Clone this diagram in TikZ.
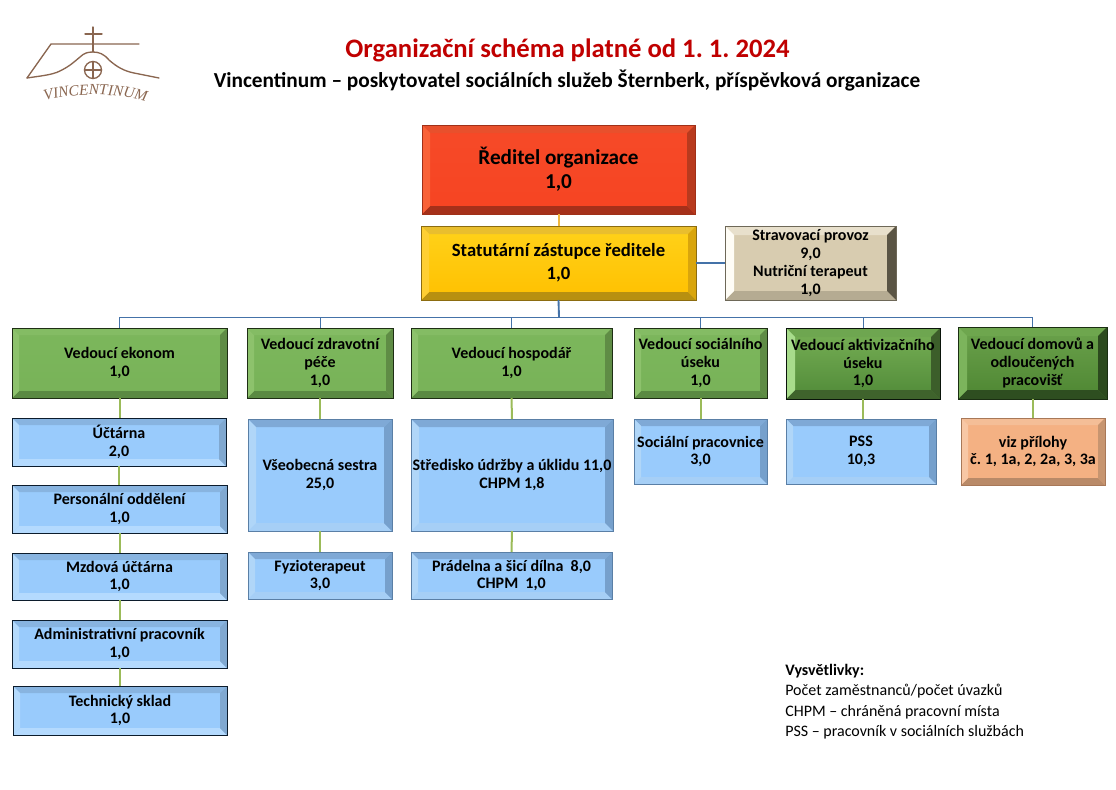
\documentclass[tikz,border=0pt]{standalone}
\usepackage{fontspec}
\setmainfont{Carlito}
\newfontfamily\logofont{Liberation Serif}
\usetikzlibrary{decorations.text}
\AtBeginDocument{\frenchspacing}
\definecolor{titlered}{HTML}{C00000}
\definecolor{logobrown}{HTML}{8A6650}
\definecolor{lineblue}{HTML}{4472A8}
\definecolor{lineorange}{HTML}{F0B840}
\definecolor{linegreen}{HTML}{9BBB59}
% face top, face bottom, top, left, right, bottom bevel, edge
\definecolor{grnA}{HTML}{7CB75C}\definecolor{grnB}{HTML}{78B258}\definecolor{grnT}{HTML}{84BC64}\definecolor{grnL}{HTML}{8DC26C}\definecolor{grnR}{HTML}{5F8C45}\definecolor{grnD}{HTML}{5A8A42}\definecolor{grnE}{HTML}{1E2E14}
\definecolor{gr2A}{HTML}{78B056}\definecolor{gr2B}{HTML}{508A38}\definecolor{gr2T}{HTML}{6EA650}\definecolor{gr2L}{HTML}{A8DC8C}\definecolor{gr2R}{HTML}{3C5E2A}\definecolor{gr2D}{HTML}{3F632C}\definecolor{gr2E}{HTML}{0A140A}
\definecolor{gr3A}{HTML}{6BA24C}\definecolor{gr3B}{HTML}{4E8632}\definecolor{gr3T}{HTML}{6EA64E}\definecolor{gr3L}{HTML}{7CB45C}\definecolor{gr3R}{HTML}{2C4A1E}\definecolor{gr3D}{HTML}{2E4E20}\definecolor{gr3E}{HTML}{1A2E12}
\definecolor{bluA}{HTML}{99CBFC}\definecolor{bluB}{HTML}{99CBFC}\definecolor{bluT}{HTML}{88B4E0}\definecolor{bluL}{HTML}{B4DAFC}\definecolor{bluR}{HTML}{80A8D0}\definecolor{bluD}{HTML}{B4DAFE}\definecolor{bluE}{HTML}{0C1C2C}
\definecolor{bl2A}{HTML}{99CBFC}\definecolor{bl2B}{HTML}{99CBFC}\definecolor{bl2T}{HTML}{7FA9D6}\definecolor{bl2L}{HTML}{B0D6F8}\definecolor{bl2R}{HTML}{76A0CC}\definecolor{bl2D}{HTML}{A6CFF6}\definecolor{bl2E}{HTML}{5A7FA6}
\definecolor{redA}{HTML}{F64A28}\definecolor{redB}{HTML}{F64422}\definecolor{redT}{HTML}{E8502C}\definecolor{redL}{HTML}{F96238}\definecolor{redR}{HTML}{B83A1E}\definecolor{redD}{HTML}{A5301A}\definecolor{redE}{HTML}{A03018}
\definecolor{yelA}{HTML}{FFD21A}\definecolor{yelB}{HTML}{FFC000}\definecolor{yelT}{HTML}{E9BE2E}\definecolor{yelL}{HTML}{FFCF33}\definecolor{yelR}{HTML}{D9A50C}\definecolor{yelD}{HTML}{B89010}\definecolor{yelE}{HTML}{8C6C10}
\definecolor{tanA}{HTML}{D8CCB0}\definecolor{tanB}{HTML}{D8CCB0}\definecolor{tanT}{HTML}{E8E0CC}\definecolor{tanL}{HTML}{FFFDF6}\definecolor{tanR}{HTML}{5A5444}\definecolor{tanD}{HTML}{B5AB92}\definecolor{tanE}{HTML}{6E6858}
\definecolor{orgA}{HTML}{F4B183}\definecolor{orgB}{HTML}{F4B183}\definecolor{orgT}{HTML}{F4BE97}\definecolor{orgL}{HTML}{F7C7A5}\definecolor{orgR}{HTML}{C79570}\definecolor{orgD}{HTML}{B98A68}\definecolor{orgE}{HTML}{A87858}
\tikzset{
  x=0.75pt,y=-0.75pt,
  boxtext/.style={align=center,font=\bfseries\fontsize{12}{13.4}\selectfont,text=black,inner sep=0pt},
  bigtext/.style={boxtext,font=\bfseries\fontsize{15.9}{18}\selectfont},
  midtext/.style={boxtext,font=\bfseries\fontsize{14}{17.25}\selectfont},
  conblue/.style={draw=lineblue,line width=0.75pt},
  conblueb/.style={draw=lineblue,line width=1.4pt},
  congreen/.style={draw=linegreen,line width=1.5pt},
  conorange/.style={draw=lineorange,line width=1.5pt},
  logoline/.style={draw=logobrown,line width=1pt,line cap=round,line join=round},
}
% name, x0, y0, x1, y1, palette, bevel, style, text
\newcommand\bevbox[9]{%
  \shade[top color=#6A,bottom color=#6B] (#2,#3) rectangle (#4,#5);
  \fill[#6T] (#2,#3) -- (#4,#3) -- ({#4-#7},{#3+#7}) -- ({#2+#7},{#3+#7}) -- cycle;
  \fill[#6D] (#2,#5) -- (#4,#5) -- ({#4-#7},{#5-#7}) -- ({#2+#7},{#5-#7}) -- cycle;
  \fill[#6L] (#2,#3) -- ({#2+#7},{#3+#7}) -- ({#2+#7},{#5-#7}) -- (#2,#5) -- cycle;
  \fill[#6R] (#4,#3) -- ({#4-#7},{#3+#7}) -- ({#4-#7},{#5-#7}) -- (#4,#5) -- cycle;
  \node[#8,draw=#6E,line width=0.75pt,minimum width={(#4-#2)*0.75pt},minimum height={(#5-#3)*0.75pt},outer sep=0pt] (#1) at ({(#2+#4)/2},{(#3+#5)/2}) {#9};
}
\begin{document}
\begin{tikzpicture}
\useasboundingbox (0,0) rectangle (1116,789);
\fill[white] (0,0) rectangle (1116,789);
% logo
\draw[logoline] (93,27) -- (93,52);
\draw[logoline] (85,34) -- (102,34);
\draw[logoline] (139,44) -- (51,44) -- (27,78);
\draw[logoline] (27,78) .. controls (40,76) and (52,75) .. (60,71) .. controls (70,66) and (74,62) .. (80,57) .. controls (84,53) and (88,52) .. (93,52) .. controls (99,52) and (104,54) .. (109,60) .. controls (117,67) and (124,71) .. (134,73) -- (159,78);
\draw[logoline] (93,70) circle (8.5);
\draw[logoline] (84.5,70) -- (101.5,70) (93,61.5) -- (93,78.5);
\coordinate (logoa) at (32,105);
\coordinate (logob) at (159,106);
\path[postaction={decorate,decoration={text along path,text align=center,text={|\color{logobrown}\logofont\fontsize{11.5}{12}\selectfont\itshape|VINCENTINUM}}}] (logoa) .. controls (70,91) and (120,91) .. (logob);
% titles
\node[inner sep=0pt,text=titlered,font=\bfseries\fontsize{20}{22}\selectfont] (title) at (567.5,50) {Organizační schéma platné od 1. 1. 2024};
\node[inner sep=0pt,text=black,font=\bfseries\fontsize{16}{17}\selectfont] (subtitle) at (567,81) {Vincentinum – poskytovatel sociálních služeb Šternberk, příspěvková organizace};
% boxes
\bevbox{dir}{422}{125}{695}{214}{red}{8}{bigtext}{Ředitel organizace\\1,0}
\bevbox{stat}{421}{226}{696}{300}{yel}{8}{midtext}{Statutární zástupce ředitele\\1,0}
\bevbox{strav}{725}{226}{896}{300}{tan}{9}{boxtext}{Stravovací provoz\\9,0\\Nutriční terapeut\\1,0}
\bevbox{ekon}{12}{328}{227}{398}{grn}{7}{boxtext}{Vedoucí ekonom\\1,0}
\bevbox{zdrav}{247}{328}{393}{398}{grn}{7}{boxtext}{Vedoucí zdravotní\\péče\\1,0}
\bevbox{hosp}{411}{328}{612}{398}{grn}{7}{boxtext}{Vedoucí hospodář\\1,0}
\bevbox{soc}{634}{328}{767}{398}{grn}{7}{boxtext}{Vedoucí sociálního\\úseku\\1,0}
\bevbox{akt}{786}{328}{940}{399}{gr2}{9}{boxtext}{Vedoucí aktivizačního\\úseku\\1,0}
\bevbox{dom}{958}{327}{1107}{399}{gr3}{9}{boxtext}{Vedoucí domovů a\\odloučených\\pracovišť}
\bevbox{ucet}{12}{418}{226}{466}{blu}{7}{boxtext}{Účtárna\\2,0}
\bevbox{pers}{12}{485}{227}{533}{blu}{7}{boxtext}{Personální oddělení\\1,0}
\bevbox{mzd}{12}{553}{227}{600}{blu}{7}{boxtext}{Mzdová účtárna\\1,0}
\bevbox{adm}{12}{620}{227}{668}{blu}{7}{boxtext}{Administrativní pracovník\\1,0}
\bevbox{tech}{13}{686}{227}{735}{blu}{7}{boxtext}{Technický sklad\\1,0}
\bevbox{sestra}{248}{419}{392}{531}{bl2}{8}{boxtext}{Všeobecná sestra\\25,0}
\bevbox{fyz}{248}{552}{392}{599}{bl2}{7}{boxtext}{Fyzioterapeut\\3,0}
\bevbox{sted}{411}{419}{613}{531}{bl2}{8}{boxtext}{Středisko údržby a úklidu 11,0\\CHPM 1,8}
\bevbox{prad}{411}{552}{612}{599}{bl2}{7}{boxtext}{Prádelna a šicí dílna~~8,0\\CHPM~~1,0}
\bevbox{socp}{634}{419}{767}{484}{bl2}{7}{boxtext}{Sociální pracovnice\\3,0}
\bevbox{pss}{786}{419}{936}{484}{bl2}{7}{boxtext}{PSS\\10,3}
\bevbox{viz}{961}{418}{1105}{485}{org}{7}{boxtext}{viz přílohy\\č. 1, 1a, 2, 2a, 3, 3a}
% connectors
\coordinate (bus) at (559,317);
\draw[conorange] (dir.south) -- (stat.north);
\draw[conblueb] (stat.east |- strav.west) -- (strav.west);
\draw[conblueb] (stat.south) -- (bus);
\foreach \n in {ekon,zdrav,hosp,soc,akt,dom}{\draw[conblue] (\n.north) |- (bus);}
\draw[congreen] (ekon.south) -- (ekon.south |- ucet.north);
\draw[congreen] (ucet.south) -- (ucet.south |- pers.north);
\draw[congreen] (pers.south) -- (pers.south |- mzd.north);
\draw[congreen] (mzd.south) -- (mzd.south |- adm.north);
\draw[congreen] (adm.south) -- (adm.south |- tech.north);
\draw[congreen] (zdrav.south) -- (sestra.north);
\draw[congreen] (sestra.south) -- (fyz.north);
\draw[congreen] (hosp.south) -- (sted.north);
\draw[congreen] (sted.south) -- (prad.north);
\draw[congreen] (soc.south) -- (soc.south |- socp.north);
\draw[congreen] (akt.south) -- (akt.south |- pss.north);
\draw[congreen] (dom.south) -- (dom.south |- viz.north);
% legend
\node[anchor=north west,inner sep=0pt,align=left,text=black,font=\fontsize{12}{15.3}\selectfont] (legend) at (785,664) {\textbf{Vysvětlivky:}\\Počet zaměstnanců/počet úvazků\\CHPM – chráněná pracovní místa\\PSS – pracovník v sociálních službách};
\end{tikzpicture}
\end{document}
